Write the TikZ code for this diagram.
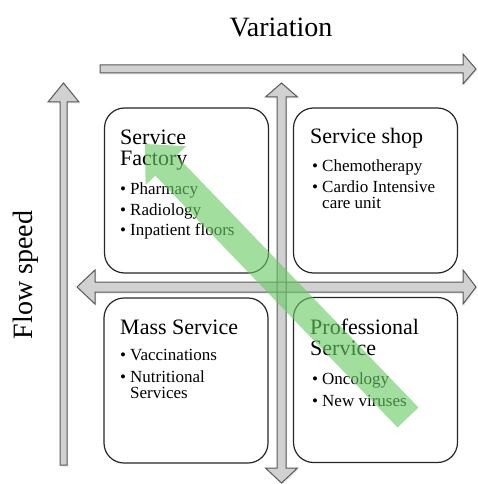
\documentclass[tikz,border=0pt]{standalone}
\usepackage{fontspec}
\setmainfont{Liberation Serif}
\usetikzlibrary{calc,shadows}

% bullet with a fixed gap before the item text
\newcommand{\blt}{\makebox[10pt][l]{\textbullet}}

\begin{document}
\begin{tikzpicture}[x=1pt, y=-1pt,
    quad/.style={draw=black!85, line width=1.2pt, rounded corners=20pt, fill=white, minimum width=164pt, minimum height=165pt, inner sep=0pt},
    axisfill/.style={fill=black!18, drop shadow={shadow xshift=1pt, shadow yshift=-1.5pt, opacity=0.2}},
    axisline/.style={draw=black!65, line width=1pt, line join=miter},
    ttl/.style={anchor=base west, inner sep=0pt, font=\fontsize{22}{26}\selectfont},
    itm/.style={anchor=base west, inner sep=0pt, font=\fontsize{17}{20}\selectfont},
    axislabel/.style={anchor=base, inner sep=0pt, font=\fontsize{28}{32}\selectfont}
]
\useasboundingbox (0,0) rectangle (477,484);

% the four quadrants
\node[quad] (fac)  at (186.5,190.5) {};
\node[quad] (shop) at (375.5,190.5) {};
\node[quad] (mass) at (186,380.5) {};
\node[quad] (prof) at (375.5,380) {};

% outer axes
\draw[axisfill, axisline] (100,65) -- (463,65) -- (463,54) -- (476,69) -- (463,84) -- (463,73) -- (100,73) -- cycle;
\draw[axisfill, axisline] (60,465) -- (60,102) -- (48,102) -- (63.5,83) -- (79,102) -- (67,102) -- (67,465) -- cycle;

% middle cross: fills first, outlines on top
\fill[axisfill] (77,287) -- (95,270) -- (95,282) -- (463,282) -- (463,270) -- (476,287) -- (463,304) -- (463,292) -- (95,292) -- (95,304) -- cycle;
\fill[axisfill] (281.5,83) -- (297.5,97) -- (286,97) -- (286,468) -- (297.5,468) -- (281.5,483) -- (265.5,468) -- (277,468) -- (277,97) -- (265.5,97) -- cycle;
\draw[axisline] (77,287) -- (95,270) -- (95,282) -- (463,282) -- (463,270) -- (476,287) -- (463,304) -- (463,292) -- (95,292) -- (95,304) -- cycle;
\draw[axisline] (281.5,83) -- (297.5,97) -- (286,97) -- (286,468) -- (297.5,468) -- (281.5,483) -- (265.5,468) -- (277,468) -- (277,97) -- (265.5,97) -- cycle;

% axis labels
\node[axislabel] (var) at (281,37) {Variation};
\node[axislabel, rotate=90] (flow) at (32,275) {Flow speed};

% service factory
\node[ttl] (fac-t1) at (120,144) {Service};
\node[ttl] (fac-t2) at (120,165) {Factory};
\node[itm] (fac-i1) at (120,194) {\blt Pharmacy};
\node[itm] (fac-i2) at (120,215) {\blt Radiology};
\node[itm] (fac-i3) at (120,235) {\blt Inpatient floors};

% service shop
\node[ttl] (shop-t1) at (310,143) {Service shop};
\node[itm] (shop-i1) at (312,171) {\blt Chemotherapy};
\node[itm] (shop-i2) at (312,192) {\blt Cardio Intensive};
\node[itm] (shop-i3) at (312,208) {\hspace*{10pt}care unit};

% mass service
\node[ttl] (mass-t1) at (120,334) {Mass Service};
\node[itm] (mass-i1) at (120,360) {\blt Vaccinations};
\node[itm] (mass-i2) at (120,382) {\blt Nutritional};
\node[itm] (mass-i3) at (120,398) {\hspace*{10pt}Services};

% professional service
\node[ttl] (prof-t1) at (310,334) {Professional};
\node[ttl] (prof-t2) at (310,355) {Service};
\node[itm] (prof-i1) at (312,384) {\blt Oncology};
\node[itm] (prof-i2) at (312,406) {\blt New viruses};

% diagonal green arrow over everything
\coordinate (gtip) at (145,144);
\coordinate (gtail) at (408,417.5);
\coordinate (gbase) at ($(gtip)!30pt!(gtail)$);
\fill[fill={rgb,255:red,105;green,202;blue,100}, fill opacity=0.62]
    ($(gtail)!14.5pt!90:(gtip)$) -- ($(gbase)!14.5pt!90:(gtip)$) -- ($(gbase)!28pt!90:(gtip)$) -- (gtip)
    -- ($(gbase)!28pt!-90:(gtip)$) -- ($(gbase)!14.5pt!-90:(gtip)$) -- ($(gtail)!14.5pt!-90:(gtip)$) -- cycle;
\end{tikzpicture}
\end{document}
